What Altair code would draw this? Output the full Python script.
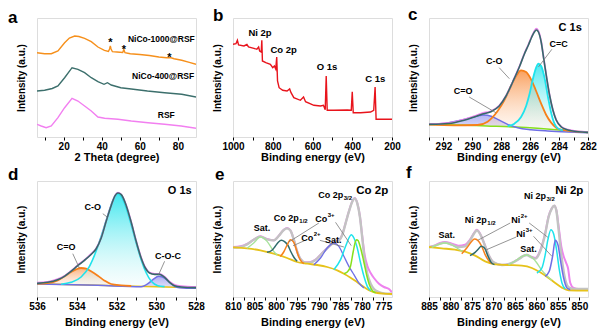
import altair as alt
import pandas as pd

FONT = "Liberation Sans"

# ---------------- (a) XRD patterns (2theta, intensity a.u.) ----------------
a_nico1000 = [(6, 84.3), (10, 83.3), (13.5, 83.3), (17, 86), (20.5, 94.3), (23, 99), (25.8, 101), (28, 100.5),
              (31, 98.7), (34.5, 95.3), (38, 90), (41.4, 86.7), (43.5, 85.5), (44.1, 88), (44.5, 91), (44.9, 88),
              (45.6, 85.3), (48, 85), (51, 84.5), (51.6, 87.5), (52.2, 84.3), (55, 83.3), (60, 82.5), (65, 81.5),
              (70, 80), (74, 79.3), (76, 79.5), (78, 78.3), (82, 76.7), (86, 74.7), (89.5, 72.7)]
a_nico400 = [(6, 46), (10, 46.7), (14, 48.5), (17, 51), (20.5, 59.3), (24.4, 69.3), (27.5, 67.7), (31, 64.3),
             (34.5, 59.3), (38, 55.3), (41.2, 52.7), (43, 54.3), (45, 52), (50, 49.3), (55.5, 48), (64, 46),
             (73, 44.3), (82, 42.7), (89.5, 40)]
a_rsf = [(6, 12.7), (8.2, 11), (10.8, 9.3), (13.5, 11), (17, 19.3), (20.5, 29.3), (24.4, 38.7), (27.5, 36),
         (31, 31), (34.5, 26), (38, 20), (41.5, 18.7), (48.5, 17.7), (55.5, 16), (64.3, 14.3), (73, 12.7),
         (81.7, 11), (89.5, 8.7)]
a_names = ["NiCo-1000@RSF", "NiCo-400@RSF", "RSF"]

# ---------------- (b) XPS survey ----------------
b_survey = [(1000, 92.7), (985, 93.3), (978, 96.7), (972, 92), (945, 91), (930, 92.5), (922, 90), (895, 88.7),
            (880, 87.7), (871, 90), (866, 86), (858, 85), (855, 96.7), (852, 76), (835, 74.3), (812, 72.7),
            (800, 69.3), (792, 71), (785, 68), (780, 80), (776, 56), (768, 49.3), (750, 46.7), (728, 46),
            (715, 48), (708, 44.3), (694, 39.3), (661, 36.7), (645, 40), (635, 35.3), (593, 31.7), (560, 31),
            (545, 31.7), (536, 27.3), (531, 61), (526, 26.7), (492, 26.7), (425, 27), (405, 26.7), (400, 45.3),
            (395, 24.3), (358, 24.3), (308, 25), (292, 26.7), (285, 50), (280, 17.7), (240, 17.7), (200, 17.7)]
b_peaks = ["Ni 2p", "Co 2p", "O 1s", "C 1s"]

# ---------------- (c) C 1s ----------------
c_background = [(293, 12.7), (291, 12), (289, 11), (287, 10), (285.5, 8.7), (284, 7), (283, 5.7), (282, 5)]
c_cdo = [(293, 12.67), (291.73, 14), (290.8, 16.67), (290.1, 19.33), (289.6, 21.3), (289.2, 22), (288.7, 20.7),
         (288.25, 17.67), (287.56, 12.67), (286.86, 9.33), (285.94, 7.33), (284.78, 6), (283.39, 5), (282, 4.33)]
c_cdo_base = [12.67, 12.26, 11.9, 11.55, 11.3, 11.1, 10.85, 10.63, 10.28, 9.33, 7.33, 6, 5, 4.33]
c_co = [(293, 12.33), (291.26, 11.67), (289.64, 12), (288.95, 15.33), (288.25, 26), (287.79, 36.67),
        (287.33, 51), (286.98, 61), (286.63, 66.67), (286.28, 65), (285.94, 57.67), (285.59, 46),
        (285.24, 33.33), (284.89, 22), (284.55, 14.33), (284.2, 9.33), (283.85, 7.33), (282.93, 5.67), (282, 4.67)]
c_co_base = [12.33, 11.67, 11.3, 10.98, 10.63, 10.4, 10.17, 9.98, 9.68, 9.38, 9.08, 8.78, 8.4, 8.01, 7.62,
             7.23, 6.7, 5.6, 4.67]
c_cc = [(287.56, 11), (287.09, 13.33), (286.63, 20), (286.28, 31), (286.05, 42.67), (285.82, 57.67),
        (285.59, 69.33), (285.43, 73.33), (285.24, 71), (285.01, 59.33), (284.78, 41), (284.55, 24.33),
        (284.32, 13.33), (284.08, 8.67), (283.74, 6.67)]
c_cc_base = [10.28, 10.05, 9.68, 9.38, 9.18, 8.98, 8.78, 8.62, 8.4, 8.14, 7.88, 7.62, 7.36, 7.09, 6.66]
c_envelope = [(293, 12.67), (292.19, 13), (291.26, 14.33), (290.57, 16.67), (289.87, 20), (289.29, 23),
              (288.72, 25.33), (288.14, 31), (287.67, 41), (287.21, 55), (286.75, 70), (286.4, 83),
              (286.12, 92), (285.89, 100), (285.71, 105), (285.57, 107), (285.43, 105), (285.24, 95),
              (285.06, 78), (284.87, 60), (284.66, 42), (284.43, 27), (284.2, 17), (283.85, 10), (283.39, 7),
              (282.69, 5.33), (282, 4.67)]
c_raw = [(293, 12.9), (292.19, 13.4), (291.26, 14.8), (290.57, 17.5), (289.87, 20.9), (289.29, 23.8),
         (288.72, 25.8), (288.14, 31.3), (287.67, 41.2), (287.21, 55.2), (286.75, 70.3), (286.4, 83.4),
         (286.12, 92.5), (285.89, 100.6), (285.71, 105.8), (285.57, 108.3), (285.43, 106), (285.24, 95.6),
         (285.06, 78.4), (284.87, 60.3), (284.66, 42.2), (284.43, 27.2), (284.2, 17.2), (283.85, 10.3),
         (283.39, 7.3), (282.69, 5.6), (282, 4.9)]

# ---------------- (d) O 1s ----------------
d_background = [(536, 13.33), (534.12, 12.33), (532.1, 11.33), (530, 10.33), (528, 9.33)]
d_coc = [(536, 13), (532.94, 11.67), (530.76, 10.33), (530.42, 13.33), (530.17, 17.33), (529.87, 20.67),
         (529.58, 19), (529.33, 14.67), (529.08, 10.67), (528.82, 9.33), (528, 8.67)]
d_coc_base = [13, 11.67, 10.33, 10.55, 10.42, 10.27, 10.12, 9.98, 9.85, 9.33, 8.67]
d_cdo = [(536, 13.33), (535.46, 14), (534.96, 16.67), (534.62, 20.67), (534.29, 25), (534.03, 27.67),
         (533.78, 29), (533.53, 28.33), (533.28, 25.67), (532.94, 21.33), (532.6, 16.33), (532.27, 13),
         (531.76, 11.67), (531.26, 11)]
d_cdo_base = [13.33, 13.05, 12.8, 12.6, 12.42, 12.28, 12.15, 12.02, 11.9, 11.72, 11.55, 11.39, 11.13, 10.9]
d_co = [(534.79, 12.67), (534.29, 14.67), (533.78, 20), (533.36, 30.67), (533.03, 45.67), (532.69, 65.67),
        (532.4, 84), (532.18, 96.67), (531.97, 103.33), (531.76, 100.67), (531.51, 89), (531.26, 72.33),
        (531.01, 54), (530.76, 37.33), (530.5, 24), (530.25, 15.67), (529.92, 11.33), (529.58, 10.33)]
d_co_base = [12.67, 12.6, 12.3, 12.1, 11.9, 11.7, 11.5, 11.4, 11.3, 11.2, 11.1, 10.9, 10.8, 10.7, 10.5, 10.4,
             10.2, 10.0]
d_envelope = [(536, 13.67), (535.46, 14.67), (534.96, 17.33), (534.62, 20.67), (534.29, 25.67), (533.95, 31.33),
              (533.61, 36.67), (533.28, 42.5), (533.03, 48), (532.77, 59), (532.52, 75.67), (532.27, 91.33),
              (532.07, 101.33), (531.93, 104), (531.76, 102.33), (531.51, 91.33), (531.26, 74.67),
              (531.01, 55.67), (530.76, 39), (530.55, 29), (530.34, 24), (530.08, 22.67), (529.83, 22.67),
              (529.58, 19.67), (529.33, 14.67), (529.08, 11.33), (528.74, 10), (528, 9.33)]
d_raw = [(536, 14.3), (535.46, 15.2), (534.96, 17.8), (534.62, 21), (534.29, 26), (533.95, 31.8), (533.61, 37),
         (533.28, 43), (533.03, 48.3), (532.77, 59.3), (532.52, 76), (532.27, 91.5), (532.07, 101.5),
         (531.93, 104.3), (531.76, 102.5), (531.51, 91.8), (531.26, 75), (531.01, 56), (530.76, 39.5),
         (530.55, 29.5), (530.34, 24.5), (530.08, 23.2), (529.83, 23), (529.58, 20.2), (529.33, 15.3),
         (529.08, 12.2), (528.74, 10.8), (528, 10)]

# ---------------- (e) Co 2p ----------------
e_background = [(810, 49.67), (806.74, 48.67), (803.63, 46.67), (800.52, 43.33), (797.41, 39), (795.08, 35),
                (792.74, 33.33), (790.41, 32), (788.08, 30), (785.75, 26.67), (784.19, 23.33), (782.64, 19.33),
                (781.08, 14.67), (779.53, 10), (777.97, 6), (776.42, 4), (774.87, 3.33), (773, 3)]
e_raw = [(810, 50), (808.29, 50.67), (806.74, 53), (805.18, 57.33), (803.63, 60.67), (802.07, 58),
         (800.52, 56.67), (799.35, 61.33), (798.18, 67.33), (797.41, 69), (796.63, 66.67), (795.85, 57.33),
         (795.08, 45.67), (794.3, 38), (793.13, 34.67), (791.97, 35), (790.8, 37.33), (789.63, 42.33),
         (788.08, 49), (786.53, 54.67), (785.36, 56.67), (784.58, 62.33), (783.8, 74), (783.03, 85.67),
         (782.25, 95.67), (781.71, 99), (781.08, 94), (780.46, 80.67), (779.92, 60.67), (779.37, 42.33),
         (778.75, 31.33), (777.97, 24), (777.2, 19), (776.03, 13.33), (774.87, 10), (773.7, 8), (773, 4.67)]
e_envelope = [(810, 49.33), (808.29, 50), (806.74, 52.67), (805.18, 57.33), (803.63, 60.33), (802.07, 57.67),
              (800.52, 56.67), (799.35, 61), (798.18, 67), (797.41, 68.67), (796.63, 66.33), (795.85, 57.33),
              (795.08, 45.67), (794.3, 38), (793.13, 34.33), (791.97, 34.67), (790.8, 37), (789.63, 42),
              (788.08, 48.67), (786.53, 54.33), (785.36, 56.33), (784.58, 62), (783.8, 73.67), (783.03, 85.33),
              (782.25, 95.33), (781.71, 98.67), (781.08, 93.67), (780.46, 80), (779.92, 59), (779.37, 37.33),
              (778.75, 23.33), (777.97, 13.33), (777.2, 8), (776.03, 5), (774.87, 3.67), (773.7, 3.3), (773, 3)]
e_sat_a = [(806.74, 48.67), (805.18, 54), (803.63, 60), (802.07, 55.67), (800.52, 45.67), (799.74, 42)]
e_co3_half = [(802.07, 44.7), (801, 46.5), (800.2, 50.5), (799.4, 55), (798.73, 56.67), (798.0, 55.3),
              (797.2, 51.5), (796.5, 45), (795.8, 39.5), (795.08, 35.7)]
e_co2_half = [(799.0, 40.5), (798.2, 45), (797.4, 52), (796.63, 57.33), (795.85, 54.67), (795.3, 48),
              (794.69, 40), (794.0, 35), (793.5, 33.5)]
e_sat_b = [(791.19, 32.33), (789.63, 39), (788.08, 49), (786.53, 54), (785.36, 50.67), (784.19, 40.67),
           (783.03, 30.67), (781.86, 22.33), (780.7, 14), (779.53, 9)]
e_co3_main = [(786.53, 27.33), (784.97, 37.33), (783.8, 50.67), (783.03, 59), (782.48, 62.33), (781.86, 59),
              (781.08, 49), (780.31, 34), (779.53, 20.67), (778.75, 10.67), (777.97, 6.33)]
e_co2_main = [(784.19, 23.3), (783.4, 25), (782.64, 31), (782.0, 46), (781.5, 55.5), (781.24, 57.33),
              (780.9, 56.5), (780.31, 49), (779.6, 36), (778.9, 22), (778.2, 11.5), (777.5, 6), (776.81, 4.3)]

# ---------------- (f) Ni 2p ----------------
f_background = [(885, 50), (882.05, 48.67), (878.94, 47.33), (876.6, 45.33), (874.27, 41.33), (871.94, 35.67),
                (869.61, 32.67), (866.5, 32), (863.39, 31.33), (861.06, 29), (859.12, 24.67), (857.17, 19),
                (855.62, 14), (854.06, 9.33), (852.51, 6.67), (848, 6.33)]
f_raw = [(885, 50), (883.6, 51.67), (882.43, 54), (881.27, 55), (879.71, 53.33), (878.16, 51.33), (876.6, 52.33),
         (875.44, 57.33), (874.43, 64.67), (873.88, 67.33), (873.11, 63.33), (872.33, 55.67), (871.16, 42.33),
         (869.99, 34.67), (868.05, 32), (866.11, 33.33), (864.17, 38), (863, 41.33), (862.22, 42.33),
         (861.45, 40.67), (860.28, 39), (859.12, 46.67), (857.95, 64), (857.17, 80.67), (856.4, 89),
         (855.85, 91.33), (855.38, 87.33), (854.84, 70.67), (854.22, 50.67), (853.67, 40.67), (853.13, 34.67),
         (852.66, 29), (852.12, 14), (851.34, 9), (850.18, 8), (848, 8)]
f_envelope = [(885, 49.67), (883.6, 51.33), (882.43, 53.33), (881.27, 54.33), (879.71, 52.33), (878.16, 50),
              (876.6, 50.67), (875.44, 56.67), (874.43, 64), (873.88, 66.67), (873.11, 63), (872.33, 55.33),
              (871.16, 42.33), (869.99, 34.67), (868.05, 32), (866.11, 33.33), (864.17, 37.67), (863, 41),
              (862.22, 42), (861.45, 40.33), (860.28, 38.33), (859.12, 45.67), (857.95, 63.33), (857.17, 80),
              (856.4, 88.67), (855.85, 91.33), (855.38, 86.67), (854.84, 67.33), (854.22, 42.33), (853.67, 25.67),
              (853.13, 14.67), (852.51, 9.67), (851.34, 8), (848, 8)]
f_sat_a = [(884.38, 49.67), (882.82, 52.33), (881.27, 54), (879.71, 52), (878.16, 48), (876.99, 45.33)]
f_ni2_half = [(877.38, 43.33), (876.21, 49), (875.05, 55.67), (874.43, 58), (873.65, 56.67), (872.72, 50.67),
              (871.94, 42.33), (871.16, 36.67), (870.39, 33.33)]
f_ni3_half = [(875.44, 41.33), (874.27, 44.67), (873.5, 48), (872.87, 50.67), (872.09, 49), (871.32, 41.33),
              (870.55, 34.67), (869.77, 32.33)]
f_sat_b = [(866.5, 32), (864.56, 37.33), (863.39, 40.67), (862.22, 42), (861.06, 39.67), (859.89, 34),
           (858.73, 26.67), (857.56, 21.33), (856.4, 16.67)]
f_ni2_main = [(859.89, 24), (858.73, 29), (857.95, 42.33), (857.33, 57.33), (856.63, 67.33), (856.01, 63.33),
              (855.38, 49), (854.68, 27.33), (854.06, 14), (853.29, 8)]
f_ni3_main = [(857.95, 20.67), (857.02, 25.67), (856.24, 40.67), (855.62, 56.67), (855, 52.33), (854.37, 35.67),
              (853.67, 19), (852.9, 9), (852.12, 7.33)]

# ---------------- helpers ----------------
W = 159
H1, H2 = 119, 116


def encodings(domain, reverse, ticks, major, xtitle, ymax, tpad):
    X = alt.X("x:Q", scale=alt.Scale(domain=domain, reverse=reverse, nice=False, zero=False),
              axis=alt.Axis(values=ticks, labelExpr=f"datum.value % {major} == 0 ? datum.label : ''",
                            format="d", title=xtitle, grid=False, domain=False, tickSize=3, tickWidth=1,
                            tickColor="black", labelFont=FONT, labelFontSize=10, labelFontWeight="bold",
                            labelColor="black", labelPadding=1, labelFlush=False, labelOverlap=False,
                            titleFont=FONT, titleFontSize=11, titleFontWeight="bold", titleColor="black",
                            titlePadding=tpad))
    Y = alt.Y("y:Q", scale=alt.Scale(domain=[0, ymax], nice=False, zero=False),
              axis=alt.Axis(title="Intensity (a.u.)", labels=False, ticks=False, domain=False, grid=False,
                            titleFont=FONT, titleFontSize=10, titleFontWeight="bold", titleColor="black",
                            titlePadding=11))
    return X, Y


def line(pairs, color, X, Y, w=1.5, interp="monotone"):
    df = pd.DataFrame(pairs, columns=["x", "y"])
    return alt.Chart(df).mark_line(color=color, strokeWidth=w, interpolate=interp, clip=True).encode(x=X, y=Y)


def grad(top, bottom):
    return alt.Gradient(gradient="linear",
                        stops=[alt.GradientStop(color=top, offset=0), alt.GradientStop(color=bottom, offset=1)],
                        x1=0, x2=0, y1=0, y2=1)


def fill(pairs, base, g, X, Y):
    df = pd.DataFrame(pairs, columns=["x", "y"])
    df["b"] = base
    return alt.Chart(df).mark_area(color=g, interpolate="monotone", clip=True).encode(x=X, y=Y, y2="b:Q")


def text(x, y, s, X, Y, size=9, align="center", dx=0, dy=0):
    df = pd.DataFrame({"x": [x], "y": [y], "t": [s]})
    return alt.Chart(df).mark_text(font=FONT, fontWeight="bold", fontSize=size, align=align, baseline="middle",
                                   dx=dx, dy=dy, color="black").encode(x=X, y=Y, text="t:N")


def sub_text(x, y, main, small, X, Y, sup=False):
    return [text(x, y, main, X, Y, size=9, align="right"),
            text(x, y, small, X, Y, size=6, align="left", dx=0.5, dy=(-4 if sup else 3))]


def leaders(segs, X, Y):
    df = pd.DataFrame(segs, columns=["x", "y", "x2", "y2"])
    return alt.Chart(df).mark_rule(color="#7a7a7a", strokeWidth=0.8).encode(x=X, y=Y, x2="x2:Q", y2="y2:Q")


def letter(s, px, py):
    return alt.Chart(pd.DataFrame({"t": [s]})).mark_text(
        font=FONT, fontWeight="bold", fontSize=17, align="left", baseline="alphabetic", color="black"
    ).encode(x=alt.value(px), y=alt.value(py), text="t:N")


# colours
PINK = "#ee82ee"
GRAY = "#c3c3c3"
YELLOW = "#e6c21a"
ORANGE = "#f7801a"
TEAL = "#2f6b6b"
CYAN = "#1ee3ec"
LIME = "#86e01c"
BLUE = "#6f6fe6"
LGREEN = "#a6e29a"
ENV = "#356b69"

# ---------------- panel a ----------------
Xa, Ya = encodings([6, 89.5], False, list(range(10, 90, 10)), 20, "2 Theta (degree)", H1, 0)
anchor = alt.Chart(pd.DataFrame({"t": [0]})).mark_rule(opacity=0).encode(
    x=alt.value(-36), x2=alt.value(-36), y=alt.value(-17), y2=alt.value(-17))
panel_a = alt.layer(
    anchor,
    line(a_rsf, "#f27ff0", Xa, Ya, 1.4, "linear"),
    line(a_nico400, "#3c6f6c", Xa, Ya, 1.4, "linear"),
    line(a_nico1000, "#f6901c", Xa, Ya, 1.4, "linear"),
    text(71.3, 97.7, a_names[0], Xa, Ya, size=8.5),
    text(72.2, 61, a_names[1], Xa, Ya, size=8.5),
    text(73.9, 22, a_names[2], Xa, Ya, size=8.5),
    text(44.5, 96.7, "*", Xa, Ya, size=11, dy=3),
    text(51.6, 90, "*", Xa, Ya, size=11, dy=3),
    text(75.5, 82, "*", Xa, Ya, size=11, dy=3),
    letter("a", -29, 4.5),
).properties(width=W, height=H1)

# ---------------- panel b ----------------
Xb, Yb = encodings([200, 1000], True, list(range(200, 1001, 100)), 200, "Binding energy (eV)", H1, 0)
panel_b = alt.layer(
    line(b_survey, "#e8141c", Xb, Yb, 1.4, "linear"),
    text(864, 104.3, b_peaks[0], Xb, Yb, size=9.5),
    text(745, 86.7, b_peaks[1], Xb, Yb, size=9.5),
    text(527, 70, b_peaks[2], Xb, Yb, size=9.5),
    text(284, 57.7, b_peaks[3], Xb, Yb, size=9.5),
    letter("b", -20, 3),
).properties(width=W, height=H1)

# ---------------- panel c ----------------
Xc, Yc = encodings([282, 293], True, list(range(282, 294)), 2, "Binding energy (eV)", H1, 0)
panel_c = alt.layer(
    fill(c_cdo, c_cdo_base, grad("rgba(120,120,235,0.55)", "rgba(170,170,240,0.35)"), Xc, Yc),
    fill(c_co, c_co_base, grad("rgba(247,128,40,0.75)", "rgba(255,235,220,0.3)"), Xc, Yc),
    fill(c_cc, c_cc_base, grad("rgba(30,227,236,0.8)", "rgba(235,250,250,0.3)"), Xc, Yc),
    line(c_background, LIME, Xc, Yc, 1.5),
    line(c_cdo, BLUE, Xc, Yc, 1.5),
    line(c_co, ORANGE, Xc, Yc, 1.8),
    line(c_cc, CYAN, Xc, Yc, 1.8),
    line(c_raw, PINK, Xc, Yc, 1.8),
    line(c_envelope, ENV, Xc, Yc, 1.6),
    leaders([(288.14, 69.3, 287.44, 58.3), (284.5, 87.7, 285.43, 70), (290.22, 40, 288.37, 24.3)], Xc, Yc),
    text(283.23, 108.7, "C 1s", Xc, Yc, size=11),
    text(288.48, 76, "C-O", Xc, Yc),
    text(284.04, 92.7, "C=C", Xc, Yc),
    text(290.64, 46, "C=O", Xc, Yc),
    letter("c", -21, 2.3),
).properties(width=W, height=H1)

# ---------------- panel d ----------------
Xd, Yd = encodings([528, 536], True, list(range(528, 537)), 2, "Binding energy (eV)", H2, 5)
panel_d = alt.layer(
    fill(d_cdo, d_cdo_base, grad("rgba(247,128,40,0.6)", "rgba(255,225,210,0.3)"), Xd, Yd),
    fill(d_co, d_co_base, grad("rgba(30,227,236,0.85)", "rgba(235,250,250,0.3)"), Xd, Yd),
    fill(d_coc, d_coc_base, grad("rgba(120,120,235,0.6)", "rgba(170,170,240,0.35)"), Xd, Yd),
    line(d_background, YELLOW, Xd, Yd, 1.5),
    line(d_coc, BLUE, Xd, Yd, 1.5),
    line(d_cdo, ORANGE, Xd, Yd, 1.8),
    line(d_co, CYAN, Xd, Yd, 1.6),
    line(d_raw, PINK, Xd, Yd, 1.8),
    line(d_envelope, ENV, Xd, Yd, 1.6),
    leaders([(532.69, 83.3, 532.47, 80), (534.2, 43.3, 533.87, 29), (529.58, 35.7, 529.88, 22.3)], Xd, Yd),
    text(528.82, 105.7, "O 1s", Xd, Yd, size=11),
    text(533.19, 90, "C-O", Xd, Yd),
    text(534.54, 49.7, "C=O", Xd, Yd),
    text(529.41, 40.7, "C-O-C", Xd, Yd),
    letter("d", -29, -1.3),
).properties(width=W, height=H2)

# ---------------- panel e ----------------
Xe, Ye = encodings([773, 810], True, [775 + 2.5 * i for i in range(15)], 5, "Binding energy (eV)", H2, 5)
panel_e = alt.layer(
    line(e_raw, PINK, Xe, Ye, 2),
    line(e_envelope, GRAY, Xe, Ye, 2.4),
    line(e_background, YELLOW, Xe, Ye, 1.8),
    line(e_sat_a, LGREEN, Xe, Ye, 1.3),
    line(e_co3_half, TEAL, Xe, Ye, 1.5),
    line(e_co2_half, ORANGE, Xe, Ye, 1.5),
    line(e_sat_b, BLUE, Xe, Ye, 1.3),
    line(e_co3_main, CYAN, Xe, Ye, 1.5),
    line(e_co2_main, LIME, Xe, Ye, 1.5),
    leaders([(790.02, 74, 797.02, 55), (786.14, 74.7, 782.48, 51.3), (793.37, 56.3, 796.01, 51.3),
             (789.79, 56.7, 784.19, 50)], Xe, Ye),
    text(777.59, 105.7, "Co 2p", Xe, Ye, size=11.5),
    *sub_text(784.35, 102.3, "Co 2p", "3/2", Xe, Ye),
    *sub_text(794.69, 79, "Co 2p", "1/2", Xe, Ye),
    *sub_text(788.08, 78, "Co", "3+", Xe, Ye, sup=True),
    *sub_text(791.34, 59, "Co", "2+", Xe, Ye, sup=True),
    text(803.24, 69, "Sat.", Xe, Ye),
    text(786.68, 57.3, "Sat.", Xe, Ye),
    letter("e", -18, -1.3),
).properties(width=W, height=H2)

# ---------------- panel f ----------------
Xf, Yf = encodings([848, 885], True, [850 + 2.5 * i for i in range(15)], 5, "Binding energy (eV)", H2, 5)
panel_f = alt.layer(
    line(f_raw, PINK, Xf, Yf, 2),
    line(f_envelope, GRAY, Xf, Yf, 2.4),
    line(f_background, YELLOW, Xf, Yf, 1.8),
    line(f_sat_a, LGREEN, Xf, Yf, 1.3),
    line(f_ni2_half, ORANGE, Xf, Yf, 1.5),
    line(f_ni3_half, TEAL, Xf, Yf, 1.5),
    line(f_sat_b, LGREEN, Xf, Yf, 1.3),
    line(f_ni2_main, CYAN, Xf, Yf, 1.5),
    line(f_ni3_main, BLUE, Xf, Yf, 1.5),
    leaders([(866.11, 74, 873.65, 56.7), (861.68, 74, 857.33, 59.7), (864.71, 60, 871.94, 46.7),
             (860.67, 60.7, 856.4, 40.7)], Xf, Yf),
    text(852.35, 105.7, "Ni 2p", Xf, Yf, size=11.5),
    *sub_text(857.79, 100.7, "Ni 2p", "3/2", Xf, Yf),
    *sub_text(871.55, 77.3, "Ni 2p", "1/2", Xf, Yf),
    *sub_text(863.78, 76.7, "Ni", "2+", Xf, Yf, sup=True),
    *sub_text(862.61, 63.3, "Ni", "3+", Xf, Yf, sup=True),
    text(880.88, 62.3, "Sat.", Xf, Yf),
    text(861.84, 48, "Sat.", Xf, Yf),
    letter("f", -23, -3),
).properties(width=W, height=H2)

chart = alt.concat(
    panel_a, panel_b, panel_c, panel_d, panel_e, panel_f,
    columns=3, spacing=alt.RowColnumber(row=44, column=37), bounds="flush",
).properties(padding=0).configure_view(stroke="black", strokeWidth=1.8).configure(font=FONT)

chart.save("out.html", embed_options={"renderer": "svg", "actions": False})
